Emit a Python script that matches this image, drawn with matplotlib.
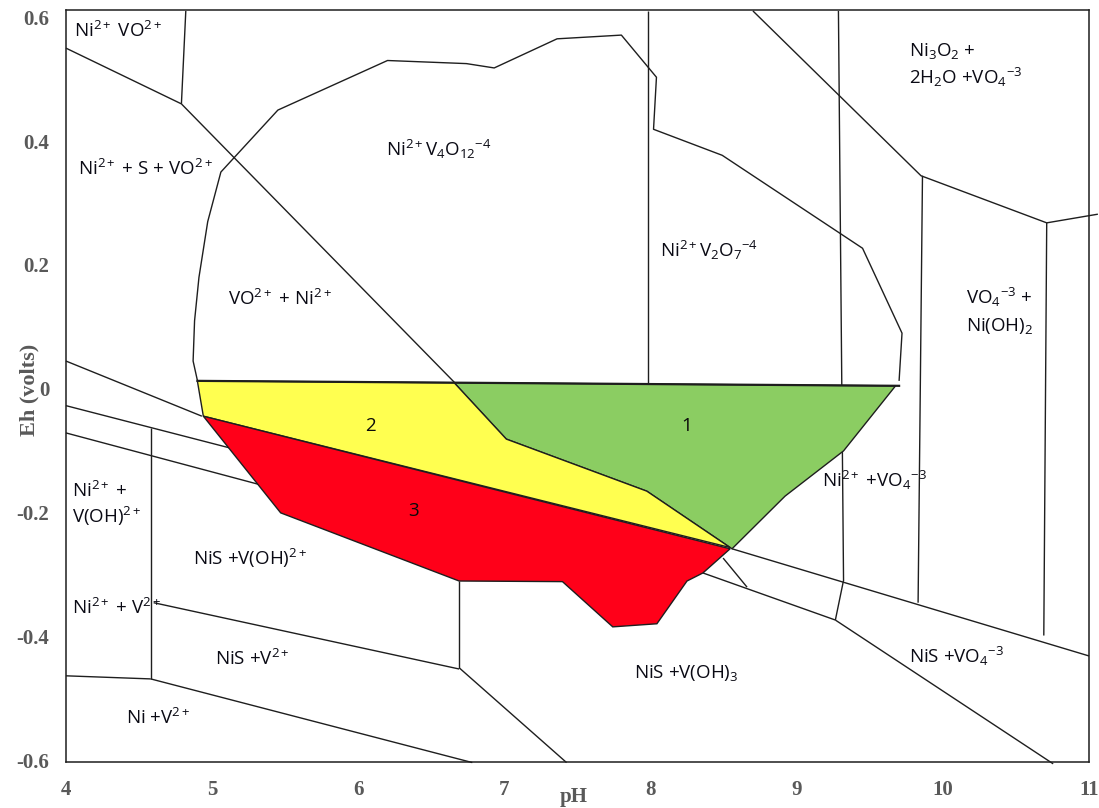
import matplotlib.pyplot as plt
from matplotlib.patches import Polygon

plt.rcParams['mathtext.fontset'] = 'custom'
plt.rcParams['mathtext.rm'] = 'Open Sans'
plt.rcParams['mathtext.it'] = 'Open Sans:italic'
plt.rcParams['mathtext.bf'] = 'Open Sans:bold'

# Eh-pH boundaries of the Ni-V-S-H2O system, as (pH, Eh / V) points
ni_vo_box = [(4.0, 0.55), (4.79, 0.46)]
ni_vo_box_side = [(4.82, 0.61), (4.79, 0.46)]
sulfur_diag = [(4.79, 0.46), (6.66, 0.01)]
vanadate_envelope = [(4.90, 0.013), (4.87, 0.045), (4.88, 0.11), (4.91, 0.18), (4.97, 0.27),
                     (5.06, 0.35), (5.45, 0.45), (6.20, 0.53), (6.74, 0.525), (6.93, 0.518),
                     (7.36, 0.565), (7.80, 0.571), (8.04, 0.503), (8.02, 0.419), (8.49, 0.377),
                     (9.45, 0.227), (9.72, 0.090), (9.70, 0.013)]
pyro_divide = [(7.98, 0.61), (7.98, 0.01)]
ni3o2_boundary = [(8.70, 0.61), (9.85, 0.344), (10.71, 0.268), (11.06, 0.282)]
vo4_divide_a = [(9.285, 0.61), (9.32, -0.31)]
vo4_divide_b = [(9.86, 0.344), (9.83, -0.345)]
nioh_divide = [(10.71, 0.268), (10.69, -0.398)]
left_slope_1 = [(4.0, 0.045), (4.93, -0.044)]
left_slope_2 = [(4.0, -0.027), (5.15, -0.097)]
left_slope_3 = [(4.0, -0.071), (5.35, -0.156)]
voh_divide = [(4.58, -0.063), (4.58, -0.468)]
nis_v_upper = [(4.60, -0.345), (6.69, -0.452)]
ni_v_left = [(4.0, -0.463), (4.58, -0.468)]
nis_v_lower = [(4.58, -0.468), (6.78, -0.603)]
voh3_divide = [(6.69, -0.31), (6.69, -0.45)]
voh3_lower = [(6.69, -0.45), (7.425, -0.603)]
vo4_upper = [(8.557, -0.258), (11.0, -0.431)]
vo4_mid = [(8.358, -0.297), (9.264, -0.373)]
vo4_spur = [(8.496, -0.273), (8.66, -0.320)]
vo4_link = [(9.264, -0.373), (9.319, -0.31)]
nis_vo4_lower = [(9.264, -0.373), (10.754, -0.605)]
zero_line = [(4.90, 0.013), (9.70, 0.005)]

# numbered stability zones
zone1 = [(6.656, 0.010), (9.676, 0.005), (9.32, -0.100), (8.92, -0.173), (8.557, -0.258),
         (7.974, -0.165), (7.013, -0.081)]
zone2 = [(4.899, 0.013), (6.656, 0.010), (7.013, -0.081), (7.974, -0.165), (8.544, -0.256),
         (4.940, -0.044)]
zone3 = [(4.940, -0.044), (5.469, -0.200), (6.690, -0.310), (7.397, -0.311), (7.741, -0.384),
         (8.043, -0.379), (8.249, -0.310), (8.358, -0.297), (8.544, -0.258)]
zone_colors = ['#8bcd62', '#ffff50', '#ff0019']
zone_names = ['1', '2', '3']
zone_label_pos = [(8.25, -0.060), (6.08, -0.060), (6.38, -0.197)]

species = [r'Ni$^{2+}$ VO$^{2+}$', r'Ni$^{2+}$ + S + VO$^{2+}$', r'Ni$^{2+}$V$_4$O$_{12}$$^{-4}$',
           r'VO$^{2+}$ + Ni$^{2+}$', r'Ni$^{2+}$V$_2$O$_7$$^{-4}$', r'Ni$_3$O$_2$ +',
           r'2H$_2$O +VO$_4$$^{-3}$', r'VO$_4$$^{-3}$ +', r'Ni(OH)$_2$', r'Ni$^{2+}$ +VO$_4$$^{-3}$',
           r'Ni$^{2+}$ +', r'V(OH)$^{2+}$', r'NiS +V(OH)$^{2+}$', r'Ni$^{2+}$ + V$^{2+}$',
           r'NiS +V$^{2+}$', r'Ni +V$^{2+}$', r'NiS +V(OH)$_3$', r'NiS +VO$_4$$^{-3}$']
species_pos = [(4.055, 0.577), (4.082, 0.355), (6.19, 0.387), (5.11, 0.145), (8.063, 0.223),
               (9.765, 0.545), (9.765, 0.503), (10.157, 0.148), (10.157, 0.102), (9.175, -0.148),
               (4.04, -0.165), (4.04, -0.206), (4.87, -0.273), (4.04, -0.353), (5.02, -0.435),
               (4.41, -0.531), (7.885, -0.458), (9.765, -0.432)]

ph_ticks = [4, 5, 6, 7, 8, 9, 10, 11]
eh_ticks = [0.6, 0.4, 0.2, 0.0, -0.2, -0.4, -0.6]
eh_tick_labels = ['0.6', '0.4', '0.2', '0', '-0.2', '-0.4', '-0.6']

fig = plt.figure(figsize=(10.99, 8.08), dpi=100)
ax = fig.add_axes([0.060, 0.057, 0.931, 0.931])

boundaries = [ni_vo_box, ni_vo_box_side, sulfur_diag, vanadate_envelope, pyro_divide, ni3o2_boundary,
              vo4_divide_a, vo4_divide_b, nioh_divide, left_slope_1, left_slope_2, left_slope_3,
              voh_divide, nis_v_upper, ni_v_left, nis_v_lower, voh3_divide, voh3_lower, vo4_upper,
              vo4_mid, vo4_spur, vo4_link, nis_vo4_lower]
for pts in boundaries:
    xs, ys = zip(*pts)
    ax.plot(xs, ys, color='#1e1e1e', lw=1.0, zorder=2, clip_on=False, solid_capstyle='butt')

for pts, col in zip([zone1, zone2, zone3], zone_colors):
    ax.add_patch(Polygon(pts, closed=True, facecolor=col, edgecolor='#1e1e1e', lw=1.0, zorder=3))

xs, ys = zip(*zero_line)
ax.plot(xs, ys, color='#1e1e1e', lw=1.6, zorder=4)

for name, (x, y) in zip(zone_names, zone_label_pos):
    ax.text(x, y, name, fontsize=13.5, family='Open Sans', color='#0a0a0a', ha='center', va='center', zorder=5)

for label, (x, y) in zip(species, species_pos):
    ax.text(x, y, label, fontsize=13.5, family='Open Sans', color='#0a0a14', ha='left', va='center', zorder=5)

ax.set_xlim(4, 11)
ax.set_ylim(-0.602, 0.612)
ax.set_xticks(ph_ticks)
ax.set_xticklabels([str(t) for t in ph_ticks])
ax.set_yticks(eh_ticks)
ax.set_yticklabels(eh_tick_labels)
ax.tick_params(length=0, labelsize=15, labelcolor='#595959')
ax.tick_params(axis='x', pad=13)
ax.tick_params(axis='y', pad=12)
for lab in ax.get_xticklabels() + ax.get_yticklabels():
    lab.set_fontfamily('Liberation Serif')
    lab.set_fontweight('bold')
for sp in ax.spines.values():
    sp.set_color('#1e1e1e')
    sp.set_linewidth(1.1)

ax.set_xlabel('pH', family='Liberation Serif', fontweight='bold', fontsize=15, color='#595959')
ax.xaxis.set_label_coords(0.496, -0.033)
ax.set_ylabel('Eh (volts)', family='Liberation Serif', fontweight='bold', fontsize=16, color='#595959')
ax.yaxis.set_label_coords(-0.026, 0.495)

fig.savefig('out.png', dpi=100)
